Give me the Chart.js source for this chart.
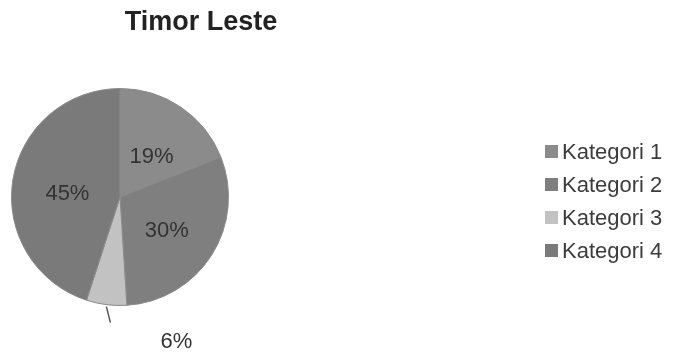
<!DOCTYPE html>
<html lang="id">
<head>
    <meta charset="UTF-8">
    <title>Timor Leste</title>
    <script src="https://cdn.jsdelivr.net/npm/chart.js"></script>
    <style>
        body {
            margin: 0;
            background: #fff;
            font-family: "Liberation Sans", Arial, sans-serif;
        }
        #wrap {
            position: relative;
            width: 683px;
            height: 353px;
        }
        #title {
            position: absolute;
            left: 101px;
            width: 200px;
            top: 6px;
            text-align: center;
            font-weight: bold;
            font-size: 27px;
            color: #222;
        }
        #legend {
            position: absolute;
            left: 545px;
            top: 138px;
            list-style: none;
            margin: 0;
            padding: 0;
        }
        #legend li {
            height: 33px;
            line-height: 28px;
            font-size: 22px;
            color: #3c3c3c;
            white-space: nowrap;
        }
        #legend span {
            display: inline-block;
            width: 13px;
            height: 13px;
            margin-right: 4px;
            vertical-align: 1px;
        }
    </style>
</head>
<body>
    <div id="wrap">
        <canvas id="chart" width="683" height="353"></canvas>
        <div id="title">Timor Leste</div>
        <ul id="legend"></ul>
    </div>
    <script>
        const categories = ['Kategori 1', 'Kategori 2', 'Kategori 3', 'Kategori 4'];
        const values = [19, 30, 6, 45];
        const sliceColors = ['#8b8b8b', '#7f7f7f', '#c2c2c2', '#7a7a7a'];

        // percentage labels: inside the big slices, small slice gets a leader line
        const pieLabels = {
            id: 'pieLabels',
            afterDatasetsDraw(chart) {
                const ctx = chart.ctx;
                const total = values.reduce((a, b) => a + b, 0);
                ctx.save();
                ctx.font = '22px "Liberation Sans", Arial, sans-serif';
                ctx.fillStyle = '#333';
                ctx.textAlign = 'center';
                ctx.textBaseline = 'middle';
                chart.getDatasetMeta(0).data.forEach((arc, i) => {
                    const p = arc.getProps(['x', 'y', 'startAngle', 'endAngle', 'outerRadius'], true);
                    const mid = (p.startAngle + p.endAngle) / 2;
                    const text = Math.round(values[i] / total * 100) + '%';
                    if (values[i] / total > 0.1) {
                        const r = p.outerRadius * 0.5;
                        ctx.fillText(text, p.x + Math.cos(mid) * r + 1, p.y + Math.sin(mid) * r + 5);
                    } else {
                        const ex = p.x + Math.cos(mid) * p.outerRadius;
                        const ey = p.y + Math.sin(mid) * p.outerRadius;
                        ctx.strokeStyle = '#555';
                        ctx.lineWidth = 1.5;
                        ctx.beginPath();
                        ctx.moveTo(ex, ey + 2);
                        ctx.lineTo(ex + 4, ey + 18);
                        ctx.stroke();
                        ctx.fillText(text, ex + 70, ey + 37);
                    }
                });
                ctx.restore();
            }
        };

        new Chart(document.getElementById('chart'), {
            type: 'pie',
            data: {
                labels: categories,
                datasets: [{
                    data: values,
                    backgroundColor: sliceColors,
                    borderColor: '#8a8a8a',
                    borderWidth: 1
                }]
            },
            options: {
                responsive: false,
                animation: false,
                layout: {
                    padding: { left: 11, top: 88, right: 454, bottom: 47 }
                },
                plugins: {
                    legend: { display: false },
                    tooltip: { enabled: false }
                }
            },
            plugins: [pieLabels]
        });

        // legend built from the same categories/colours
        const legend = document.getElementById('legend');
        categories.forEach((name, i) => {
            const li = document.createElement('li');
            const box = document.createElement('span');
            box.style.background = sliceColors[i];
            li.appendChild(box);
            li.appendChild(document.createTextNode(name));
            legend.appendChild(li);
        });
    </script>
</body>
</html>
